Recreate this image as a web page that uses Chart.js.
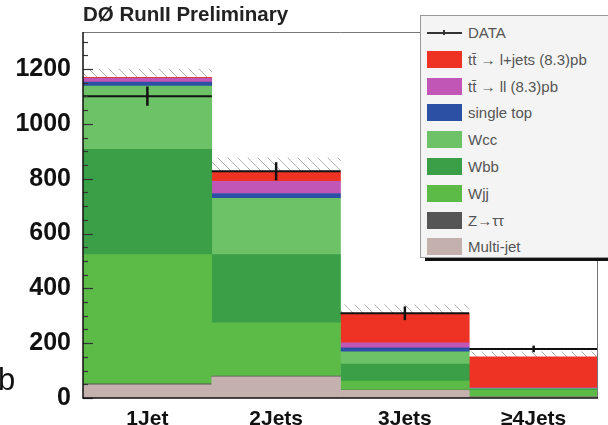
<!DOCTYPE html>
<html>
<head>
<meta charset="utf-8">
<script src="https://cdn.jsdelivr.net/npm/chart.js@4.4.1/dist/chart.umd.min.js"></script>
<style>
  html, body { margin: 0; padding: 0; background: #fff; }
  #wrap { position: relative; width: 608px; height: 425px; overflow: hidden; font-family: "Liberation Sans", Arial, sans-serif; }
  #c { position: absolute; left: 0; top: 0; }
  #title { position: absolute; left: 83px; top: 2px; font-weight: bold; font-size: 20.5px; color: #222; white-space: nowrap; }
  #stray { position: absolute; left: -2px; top: 362px; font-size: 31px; color: #111; }
  #legend { position: absolute; left: 420px; top: 15px; width: 200px; height: 243px; background: #f4f4f4; border: 1px solid #999; box-sizing: border-box; }
  #legshadow { position: absolute; left: 425px; top: 258px; width: 200px; height: 3px; background: #111; }
  .li { position: absolute; left: 0; height: 18px; width: 200px; }
  .sw { position: absolute; left: 6px; top: 0; width: 35px; height: 17px; }
  .lt { position: absolute; left: 47px; top: 0; font-size: 15px; line-height: 17px; color: #555; white-space: nowrap; }
</style>
</head>
<body>
<div id="wrap">
  <canvas id="c" width="608" height="425"></canvas>
  <div id="title">DØ RunII Preliminary</div>
  <div id="stray">b</div>
  <div id="legshadow"></div>
  <div id="legend"></div>
</div>
<script>
// ---- data ----
const categories = ['1Jet', '2Jets', '3Jets', '\u22654Jets'];
const multijet  = [48, 77, 28, 3];
const ztautau   = [4, 3, 1, 1];
const wjj       = [471, 194, 33, 25];
const wbb       = [384, 249, 62, 3];
const wcc       = [231, 205, 44, 2];
const singleTop = [14, 18, 15, 1];
const ttll      = [15, 44, 18, 2];
const ttlj      = [3, 37, 106, 113];
const mcUncert  = [30, 48, 33, 18];
const dataValues = [1101, 827, 309, 179];
const dataErrors = [35, 33, 25, 12];
const yLabelStep = 200;
const yMinorStep = 50;
const yMax = 1335;

const seriesNames = ['Multi-jet', 'Z\u2192\u03c4\u03c4', 'Wjj', 'Wbb', 'Wcc', 'single top', 't\u0074\u0304 \u2192 ll (8.3)pb', 't\u0074\u0304 \u2192 l+jets (8.3)pb'];
const seriesColors = ['#c4b1ae', '#555555', '#5cba47', '#3a9f46', '#6dc268', '#2c50a4', '#c256b6', '#ee3224'];
const seriesData = [multijet, ztautau, wjj, wbb, wcc, singleTop, ttll, ttlj];

// hatch pattern for MC uncertainty
function makeHatch() {
  const p = document.createElement('canvas');
  const s = 10;
  p.width = s; p.height = s;
  const g = p.getContext('2d');
  g.strokeStyle = '#b4b4b4';
  g.lineWidth = 1;
  g.beginPath();
  g.moveTo(0, 0); g.lineTo(s, s);
  g.moveTo(-s / 2, s / 2); g.lineTo(s / 2, s * 1.5);
  g.moveTo(s / 2, -s / 2); g.lineTo(s * 1.5, s / 2);
  g.stroke();
  return document.getElementById('c').getContext('2d').createPattern(p, 'repeat');
}

const datasets = seriesData.map((d, i) => ({
  label: seriesNames[i],
  data: d,
  backgroundColor: seriesColors[i],
  borderWidth: 0,
  stack: 'mc'
}));
datasets.push({ label: 'unc', data: mcUncert, backgroundColor: makeHatch(), borderWidth: 0, stack: 'mc' });

// legend (HTML)
const legend = document.getElementById('legend');
const legItems = [{ name: 'DATA', data: true }];
for (let i = seriesNames.length - 1; i >= 0; i--) legItems.push({ name: seriesNames[i], color: seriesColors[i] });
legItems.forEach((it, k) => {
  const row = document.createElement('div');
  row.className = 'li';
  row.style.top = (8 + k * 26.8) + 'px';
  if (it.data) {
    row.innerHTML = '<div style="position:absolute;left:6px;top:8px;width:35px;height:1.5px;background:#333"></div>' +
      '<div style="position:absolute;left:22px;top:6px;width:2px;height:5px;background:#333"></div>';
  } else {
    row.innerHTML = '<div class="sw" style="background:' + it.color + '"></div>';
  }
  row.innerHTML += '<div class="lt">' + it.name + '</div>';
  legend.appendChild(row);
});

const dataPlugin = {
  id: 'dataHist',
  afterDatasetsDraw(chart) {
    const ctx = chart.ctx;
    const y = chart.scales.y;
    const meta = chart.getDatasetMeta(0);
    ctx.save();
    ctx.strokeStyle = '#111';
    ctx.lineWidth = 2;
    dataValues.forEach((v, i) => {
      const bar = meta.data[i];
      const half = bar.width / 2;
      const py = y.getPixelForValue(v);
      ctx.beginPath();
      ctx.moveTo(bar.x - half, py);
      ctx.lineTo(bar.x + half, py);
      ctx.stroke();
      ctx.lineWidth = 2.5;
      ctx.beginPath();
      ctx.moveTo(bar.x, y.getPixelForValue(v + dataErrors[i]));
      ctx.lineTo(bar.x, y.getPixelForValue(v - dataErrors[i]));
      ctx.stroke();
      ctx.lineWidth = 2;
    });
    ctx.restore();
  }
};

const framePlugin = {
  id: 'frame',
  afterDraw(chart) {
    const ctx = chart.ctx;
    const a = chart.chartArea;
    const y = chart.scales.y;
    ctx.save();
    ctx.strokeStyle = '#777';
    ctx.lineWidth = 1;
    ctx.beginPath();
    ctx.moveTo(a.left, a.top + 0.5);
    ctx.lineTo(a.right, a.top + 0.5);
    ctx.moveTo(a.right - 0.5, a.top);
    ctx.lineTo(a.right - 0.5, a.bottom);
    ctx.stroke();
    // inner tick marks
    ctx.strokeStyle = '#333';
    ctx.lineWidth = 1.2;
    for (let v = 0; v <= yMax; v += yMinorStep) {
      const py = Math.round(y.getPixelForValue(v)) + 0.5;
      const len = (v % yLabelStep === 0) ? 10 : 5;
      ctx.beginPath();
      ctx.moveTo(a.left, py);
      ctx.lineTo(a.left + len, py);
      ctx.stroke();
    }
    // axes
    ctx.strokeStyle = '#111';
    ctx.lineWidth = 1.5;
    ctx.beginPath();
    ctx.moveTo(a.left, a.top);
    ctx.lineTo(a.left, a.bottom);
    ctx.lineTo(a.right, a.bottom);
    ctx.stroke();
    ctx.restore();
  }
};

new Chart(document.getElementById('c'), {
  type: 'bar',
  data: { labels: categories, datasets },
  options: {
    responsive: false,
    animation: false,
    layout: { padding: { top: 32, right: 10, left: 0, bottom: 0 } },
    plugins: { legend: { display: false }, tooltip: { enabled: false } },
    datasets: { bar: { categoryPercentage: 1.0, barPercentage: 1.0 } },
    scales: {
      x: {
        stacked: true,
        grid: { display: false },
        border: { display: false },
        ticks: { color: '#111', font: { family: 'Liberation Sans', weight: 'bold', size: 21 }, padding: 1 },
        afterFit(s) { s.height = 27; }
      },
      y: {
        stacked: true,
        min: 0,
        max: yMax,
        grid: { display: false },
        border: { display: false },
        ticks: {
          stepSize: yMinorStep,
          autoSkip: false,
          color: '#111',
          padding: 4,
          font: { family: 'Liberation Sans', weight: 'bold', size: 25 },
          callback: (v) => (v % yLabelStep === 0 ? String(v) : '')
        },
        afterFit(s) { s.width = 83; }
      }
    }
  },
  plugins: [dataPlugin, framePlugin]
});
</script>
</body>
</html>
